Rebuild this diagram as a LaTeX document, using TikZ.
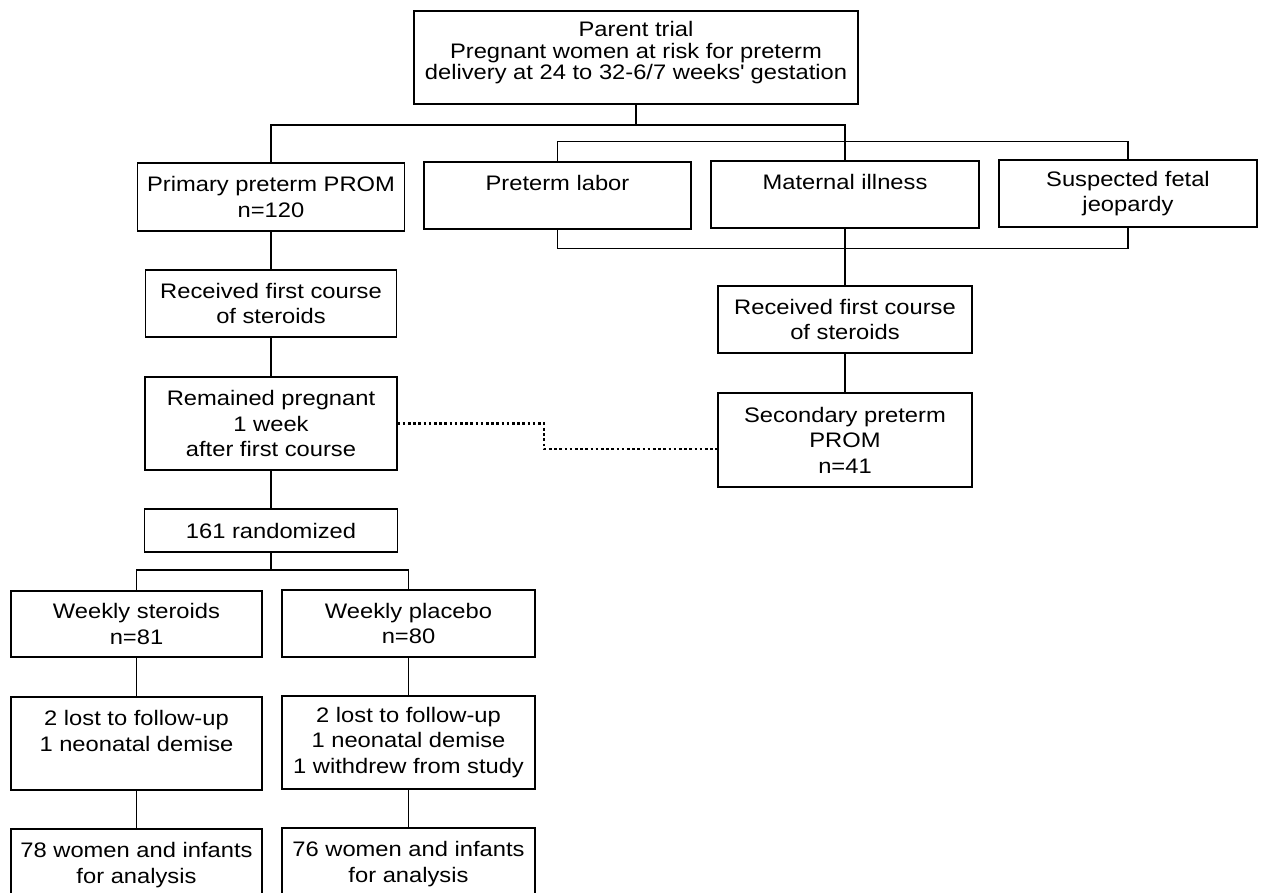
\documentclass[tikz,border=0pt]{standalone}
\usepackage{fontspec}
\setmainfont{Liberation Sans}[FakeStretch=1.13]
\tikzset{
  box/.style={draw, line width=1.2pt, align=center, inner sep=1pt,
    font=\fontsize{21}{25.5}\selectfont},
  link/.style={line width=1.2pt},
  dotlink/.style={line width=2.8pt, dash pattern=on 2.6pt off 2.6pt}
}
\begin{document}
\begin{tikzpicture}[x=1pt, y=-1pt]
  \useasboundingbox (0,0) rectangle (1269,893);
  \node[box, minimum width=444, minimum height=93, text depth=14pt,
    font=\fontsize{21}{21.5}\selectfont] (parent) at (636,57.5)
    {Parent trial\\Pregnant women at risk for preterm\\delivery at 24 to 32-6/7 weeks\textquotesingle{} gestation};
  \foreach \n/\x/\y/\w/\h/\t in {
      prom/271/197/267/68/{Primary preterm PROM\\n=120},
      labor/557.5/195.5/267/67/{Preterm labor\\~},
      illness/845/194.5/268/67/{Maternal illness\\~},
      fetal/1128/193.5/258/67/{Suspected fetal\\jeopardy},
      recvA/271/303.5/251/67/{Received first course\\of steroids},
      remain/271/423.5/252/93/{Remained pregnant\\1 week\\after first course},
      rand/271/530.5/253/43/{161 randomized},
      recvB/845/319.5/254/67/{Received first course\\of steroids},
      second/845/440/254/94/{Secondary preterm\\PROM\\n=41},
      steroid/136.5/624/251/66/{Weekly steroids\\n=81},
      placebo/408.5/623.5/253/67/{Weekly placebo\\n=80},
      lostA/136.5/743.5/251/93/{2 lost to follow-up\\1 neonatal demise\\~},
      lostB/408.5/742.5/253/93/{2 lost to follow-up\\1 neonatal demise\\1 withdrew from study},
      finalA/136.5/875.5/251/93/{78 women and infants\\for analysis\\~},
      finalB/408.5/874.5/253/93/{76 women and infants\\for analysis\\~}} {
    \node[box, minimum width=\w, minimum height=\h] (\n) at (\x,\y) {\t};
  }
  % joints
  \coordinate (split) at (636,125);
  \coordinate (arms) at (271,570);
  \coordinate (bend) at (544,449);
  \draw[link] (parent) -- (split);
  \draw[link] (prom.north) |- (split) -| (illness.north);
  \draw[link] (labor.north) -- ++(0,-20) -| (fetal.north);
  \draw[link] (labor.south) -- ++(0,19) -| (fetal.south);
  \draw[link] (illness) -- (recvB);
  \draw[link] (recvB) -- (second);
  \draw[link] (prom) -- (recvA);
  \draw[link] (recvA) -- (remain);
  \draw[link] (remain) -- (rand);
  \draw[link] (rand) -- (arms);
  \draw[link] (steroid.north) |- (arms) -| (placebo.north);
  \draw[link] (steroid) -- (lostA);
  \draw[link] (lostA) -- (finalA);
  \draw[link] (placebo) -- (lostB);
  \draw[link] (lostB) -- (finalB);
  \draw[dotlink] (remain.east) -| (bend) -- (bend -| second.west);
\end{tikzpicture}
\end{document}
